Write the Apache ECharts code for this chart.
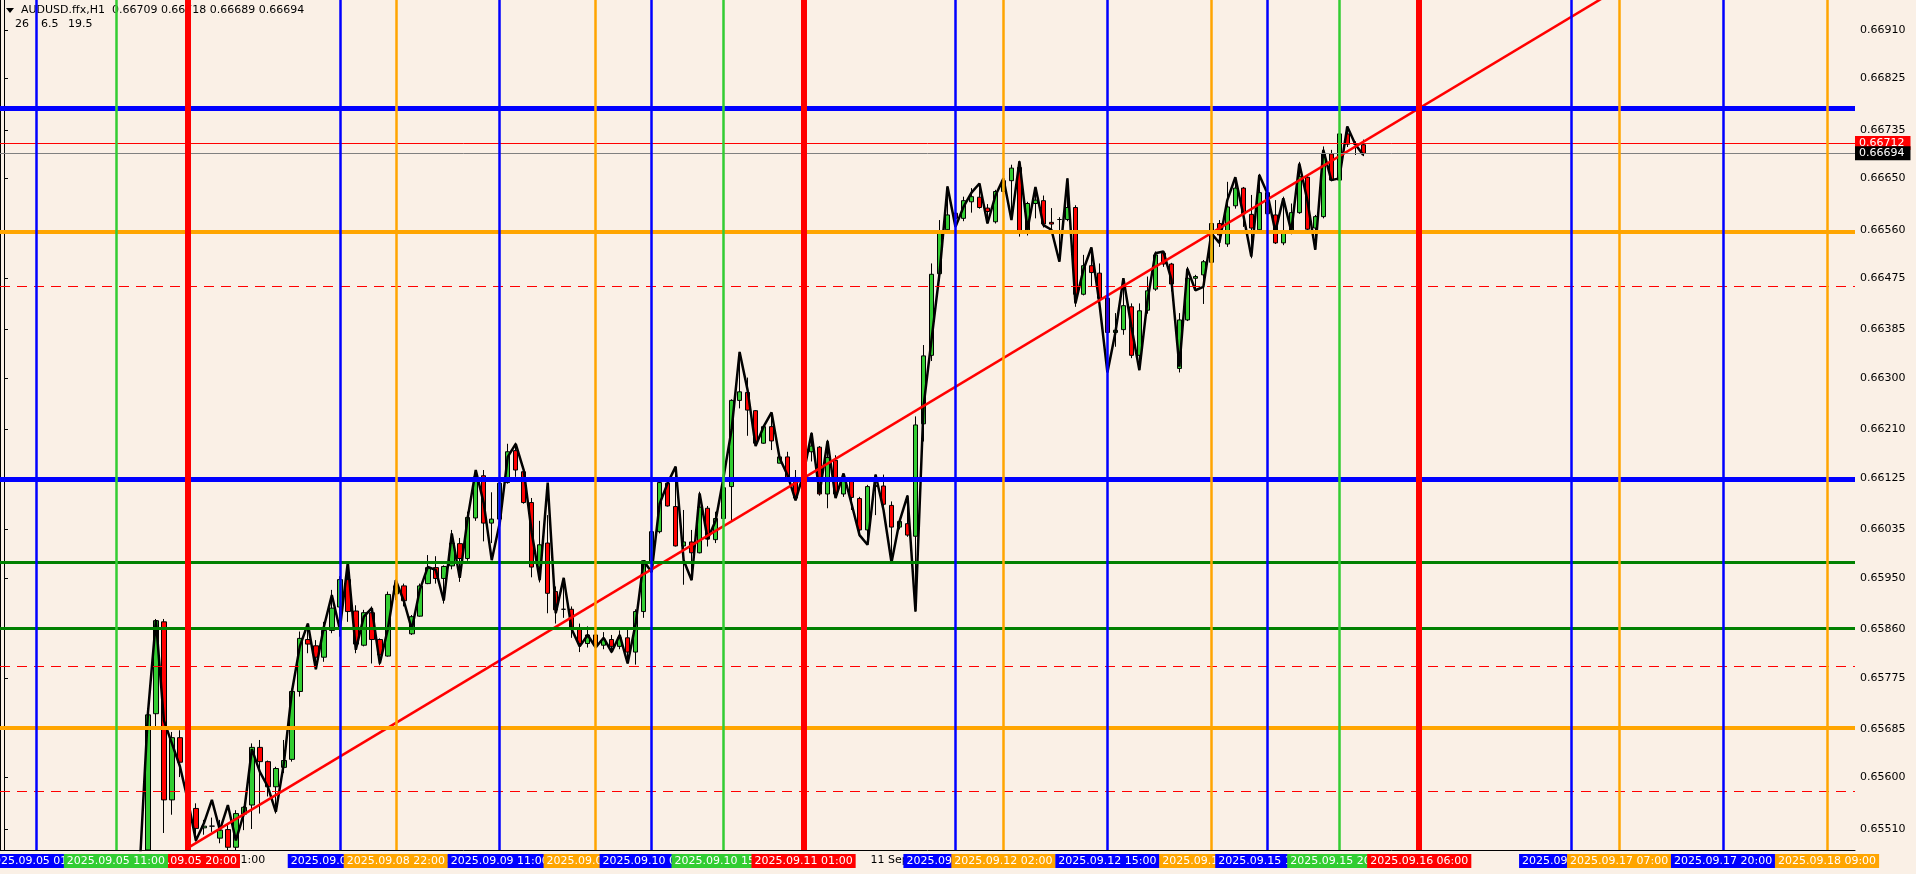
<!DOCTYPE html>
<html>
<head>
<meta charset="utf-8">
<title>AUDUSD.ffx,H1</title>
<script src="https://cdn.jsdelivr.net/npm/echarts@6/dist/echarts.min.js"></script>
<style>
  html, body { margin: 0; padding: 0; background: #FAF0E6; }
  #chart { width: 1916px; height: 874px; }
</style>
</head>
<body>
<div id="chart"></div>
<script>
// header
const symbolTitle = 'AUDUSD.ffx,H1';
const headerOHLC = ['0.66709', '0.66718', '0.66689', '0.66694'];
const headerParams = ['26', '6.5', '19.5'];

// time slots on the axis (H1 bars, weekend skipped)
const firstSlot = Date.UTC(2025, 8, 4, 21);
const slotCount = 232;
const lastBar = '2025.09.15 23:00';
const firstCandle = '2025.09.05 15:00';
const firstLinePoint = '2025.09.05 14:00';

// candles, one entry per bar from firstCandle
const openVals = [
  0.65450, 0.65712, 0.65873, 0.65561, 0.65670, 0.65626, 0.65546, 0.65512, 0.65515, 0.65494,
  0.65509, 0.65478, 0.65536, 0.65552, 0.65653, 0.65628, 0.65584, 0.65618, 0.65632, 0.65751,
  0.65842, 0.65831, 0.65811, 0.65858, 0.65899, 0.65947, 0.65892, 0.65832, 0.65889, 0.65842,
  0.65813, 0.65922, 0.65936, 0.65852, 0.65883, 0.65940, 0.65968, 0.65949, 0.65971, 0.66010,
  0.65984, 0.66055, 0.66129, 0.66046, 0.66053, 0.66117, 0.66173, 0.66136, 0.66082, 0.65969,
  0.66011, 0.65926, 0.65895, 0.65895, 0.65860, 0.65835, 0.65850, 0.65832, 0.65842, 0.65830,
  0.65845, 0.65820, 0.65891, 0.65978, 0.66031, 0.66116, 0.66075, 0.66006, 0.66013, 0.65994,
  0.66072, 0.66017, 0.66054, 0.66110, 0.66261, 0.66275, 0.66243, 0.66186, 0.66215, 0.66151,
  0.66162, 0.66126, 0.66096, 0.66171, 0.66179, 0.66097, 0.66156, 0.66097, 0.66120, 0.66089,
  0.66034, 0.66110, 0.66111, 0.66077, 0.66039, 0.66045, 0.66023, 0.66220, 0.66340, 0.66483,
  0.66560, 0.66589, 0.66580, 0.66609, 0.66617, 0.66598, 0.66574, 0.66627, 0.66646, 0.66669,
  0.66557, 0.66606, 0.66611, 0.66573, 0.66578, 0.66578, 0.66599, 0.66447, 0.66497, 0.66484,
  0.66440, 0.66380, 0.66385, 0.66425, 0.66340, 0.66419, 0.66456, 0.66519, 0.66500, 0.66317,
  0.66402, 0.66475, 0.66481, 0.66503, 0.66571, 0.66535, 0.66602, 0.66633, 0.66587, 0.66560,
  0.66625, 0.66586, 0.66537, 0.66555, 0.66590, 0.66652, 0.66563, 0.66583, 0.66693, 0.66647,
  0.66728, 0.66710, 0.66709
];
const highVals = [
  0.65722, 0.65878, 0.65878, 0.65680, 0.65683, 0.65631, 0.65555, 0.65526, 0.65530, 0.65526,
  0.65520, 0.65543, 0.65550, 0.65660, 0.65666, 0.65630, 0.65619, 0.65666, 0.65756, 0.65856,
  0.65870, 0.65841, 0.65873, 0.65929, 0.65953, 0.65977, 0.65902, 0.65894, 0.65900, 0.65844,
  0.65926, 0.65947, 0.65940, 0.65885, 0.65940, 0.65990, 0.65988, 0.65972, 0.66034, 0.66020,
  0.66066, 0.66139, 0.66139, 0.66100, 0.66119, 0.66185, 0.66187, 0.66145, 0.66090, 0.66050,
  0.66060, 0.65935, 0.65950, 0.65900, 0.65870, 0.65865, 0.65858, 0.65855, 0.65850, 0.65858,
  0.65860, 0.65895, 0.65980, 0.66054, 0.66119, 0.66119, 0.66145, 0.66069, 0.66034, 0.66101,
  0.66076, 0.66066, 0.66247, 0.66263, 0.66346, 0.66301, 0.66244, 0.66217, 0.66240, 0.66168,
  0.66171, 0.66139, 0.66177, 0.66205, 0.66181, 0.66192, 0.66165, 0.66133, 0.66124, 0.66092,
  0.66113, 0.66131, 0.66131, 0.66084, 0.66052, 0.66095, 0.66233, 0.66358, 0.66501, 0.66577,
  0.66636, 0.66597, 0.66618, 0.66633, 0.66641, 0.66605, 0.66630, 0.66656, 0.66674, 0.66681,
  0.66609, 0.66635, 0.66620, 0.66598, 0.66582, 0.66650, 0.66603, 0.66516, 0.66529, 0.66501,
  0.66446, 0.66414, 0.66475, 0.66431, 0.66431, 0.66478, 0.66522, 0.66522, 0.66502, 0.66414,
  0.66495, 0.66481, 0.66507, 0.66580, 0.66577, 0.66644, 0.66652, 0.66635, 0.66621, 0.66658,
  0.66634, 0.66612, 0.66618, 0.66606, 0.66679, 0.66656, 0.66586, 0.66706, 0.66700, 0.66732,
  0.66741, 0.66715, 0.66718
];
const lowVals = [
  0.65420, 0.65684, 0.65503, 0.65535, 0.65601, 0.65531, 0.65488, 0.65500, 0.65505, 0.65485,
  0.65460, 0.65460, 0.65508, 0.65510, 0.65537, 0.65567, 0.65537, 0.65608, 0.65628, 0.65742,
  0.65818, 0.65790, 0.65803, 0.65853, 0.65847, 0.65873, 0.65818, 0.65830, 0.65800, 0.65797,
  0.65812, 0.65911, 0.65900, 0.65850, 0.65882, 0.65939, 0.65940, 0.65905, 0.65965, 0.65943,
  0.65980, 0.66050, 0.66014, 0.66011, 0.66040, 0.66115, 0.66127, 0.66080, 0.65951, 0.65942,
  0.65888, 0.65870, 0.65880, 0.65845, 0.65820, 0.65828, 0.65822, 0.65825, 0.65818, 0.65825,
  0.65800, 0.65798, 0.65880, 0.65939, 0.66028, 0.66075, 0.66005, 0.65938, 0.65946, 0.65993,
  0.66005, 0.66011, 0.66005, 0.66050, 0.66247, 0.66199, 0.66181, 0.66185, 0.66174, 0.66151,
  0.66118, 0.66086, 0.66094, 0.66154, 0.66094, 0.66072, 0.66092, 0.66092, 0.66069, 0.66022,
  0.66008, 0.66060, 0.66069, 0.65977, 0.66035, 0.66022, 0.65891, 0.66189, 0.66330, 0.66470,
  0.66554, 0.66560, 0.66575, 0.66590, 0.66597, 0.66571, 0.66571, 0.66620, 0.66577, 0.66548,
  0.66550, 0.66580, 0.66564, 0.66555, 0.66504, 0.66575, 0.66425, 0.66445, 0.66460, 0.66431,
  0.66300, 0.66355, 0.66376, 0.66335, 0.66314, 0.66413, 0.66453, 0.66495, 0.66452, 0.66310,
  0.66400, 0.66454, 0.66430, 0.66490, 0.66530, 0.66530, 0.66597, 0.66565, 0.66510, 0.66555,
  0.66583, 0.66535, 0.66533, 0.66552, 0.66588, 0.66556, 0.66525, 0.66580, 0.66645, 0.66638,
  0.66705, 0.66691, 0.66689
];
const closeVals = [
  0.65710, 0.65875, 0.65561, 0.65670, 0.65627, 0.65547, 0.65511, 0.65515, 0.65515, 0.65508,
  0.65478, 0.65537, 0.65548, 0.65653, 0.65628, 0.65584, 0.65616, 0.65630, 0.65751, 0.65844,
  0.65834, 0.65811, 0.65858, 0.65897, 0.65947, 0.65891, 0.65834, 0.65889, 0.65842, 0.65815,
  0.65921, 0.65936, 0.65910, 0.65882, 0.65936, 0.65968, 0.65949, 0.65970, 0.66011, 0.65984,
  0.66056, 0.66127, 0.66046, 0.66053, 0.66116, 0.66171, 0.66139, 0.66082, 0.65969, 0.66008,
  0.65923, 0.65894, 0.65895, 0.65860, 0.65835, 0.65850, 0.65832, 0.65842, 0.65830, 0.65845,
  0.65820, 0.65891, 0.65980, 0.66031, 0.66117, 0.66076, 0.66006, 0.66013, 0.65994, 0.66074,
  0.66018, 0.66054, 0.66108, 0.66261, 0.66276, 0.66244, 0.66186, 0.66215, 0.66190, 0.66162,
  0.66120, 0.66090, 0.66174, 0.66181, 0.66097, 0.66161, 0.66097, 0.66120, 0.66091, 0.66034,
  0.66110, 0.66112, 0.66079, 0.66039, 0.66049, 0.66025, 0.66218, 0.66339, 0.66482, 0.66558,
  0.66586, 0.66580, 0.66611, 0.66618, 0.66599, 0.66592, 0.66627, 0.66646, 0.66668, 0.66558,
  0.66606, 0.66612, 0.66570, 0.66570, 0.66578, 0.66599, 0.66447, 0.66497, 0.66485, 0.66440,
  0.66380, 0.66384, 0.66427, 0.66340, 0.66418, 0.66453, 0.66516, 0.66500, 0.66465, 0.66402,
  0.66475, 0.66478, 0.66504, 0.66571, 0.66551, 0.66600, 0.66633, 0.66588, 0.66563, 0.66625,
  0.66588, 0.66537, 0.66554, 0.66590, 0.66653, 0.66561, 0.66583, 0.66693, 0.66647, 0.66728,
  0.66710, 0.66710, 0.66694
];

// black price line, one point per bar from firstLinePoint
const lineVals = [
  0.65450, 0.65713, 0.65876, 0.65700, 0.65660, 0.65620, 0.65560, 0.65490, 0.65520, 0.65561,
  0.65508, 0.65552, 0.65490, 0.65537, 0.65650, 0.65610, 0.65584, 0.65540, 0.65625, 0.65750,
  0.65830, 0.65870, 0.65790, 0.65864, 0.65920, 0.65860, 0.65977, 0.65824, 0.65882, 0.65897,
  0.65800, 0.65860, 0.65946, 0.65910, 0.65860, 0.65929, 0.65969, 0.65964, 0.65910, 0.66028,
  0.65950, 0.66056, 0.66139, 0.66081, 0.65981, 0.66046, 0.66162, 0.66185, 0.66139, 0.66030,
  0.65946, 0.66117, 0.65888, 0.65950, 0.65860, 0.65830, 0.65850, 0.65828, 0.65845, 0.65820,
  0.65850, 0.65800, 0.65870, 0.65980, 0.65960, 0.66080, 0.66116, 0.66145, 0.65981, 0.65946,
  0.66098, 0.66018, 0.66050, 0.66127, 0.66210, 0.66346, 0.66279, 0.66181, 0.66215, 0.66240,
  0.66160, 0.66130, 0.66086, 0.66133, 0.66204, 0.66098, 0.66190, 0.66090, 0.66133, 0.66080,
  0.66025, 0.66008, 0.66131, 0.66069, 0.65977, 0.66049, 0.66094, 0.65891, 0.66250, 0.66367,
  0.66483, 0.66636, 0.66565, 0.66600, 0.66625, 0.66641, 0.66571, 0.66620, 0.66650, 0.66577,
  0.66680, 0.66560, 0.66635, 0.66568, 0.66560, 0.66504, 0.66650, 0.66431, 0.66490, 0.66529,
  0.66431, 0.66310, 0.66380, 0.66475, 0.66390, 0.66314, 0.66435, 0.66519, 0.66522, 0.66473,
  0.66320, 0.66492, 0.66454, 0.66460, 0.66554, 0.66537, 0.66612, 0.66652, 0.66586, 0.66513,
  0.66656, 0.66624, 0.66557, 0.66615, 0.66557, 0.66676, 0.66612, 0.66525, 0.66700, 0.66647,
  0.66650, 0.66741, 0.66710, 0.66691
];

// price scale
const priceMin = 0.654732;
const priceMax = 0.669626;
const priceTicks = [0.66910, 0.66825, 0.66735, 0.66650, 0.66560, 0.66475, 0.66385, 0.66300, 0.66210,
  0.66125, 0.66035, 0.65950, 0.65860, 0.65775, 0.65685, 0.65600, 0.65510];

// horizontal levels
const hValues = [0.66773, 0.66556, 0.66461, 0.66123, 0.65977, 0.65861, 0.65796, 0.65688, 0.65577];
const hColors = ['#0000FF', '#FFA500', '#FF0000', '#0000FF', '#008000', '#008000', '#FF0000', '#FFA500', '#FF0000'];
const hWidths = [5, 4, 1, 5, 3, 3, 1, 4, 1];
const hDashed = [false, false, true, false, false, false, true, false, true];
const askPrice = 0.66712;
const bidPrice = 0.66694;

// vertical time lines (listed in drawing order)
const vTimes = ['2025.09.05 01:00', '2025.09.05 20:00', '2025.09.05 11:00', '2025.09.08 15:00', '2025.09.08 22:00',
  '2025.09.09 11:00', '2025.09.09 23:00', '2025.09.10 06:00', '2025.09.10 15:00', '2025.09.11 01:00',
  '2025.09.11 20:00', '2025.09.12 02:00', '2025.09.12 15:00', '2025.09.15 04:00', '2025.09.15 11:00',
  '2025.09.15 20:00', '2025.09.16 06:00', '2025.09.17 01:00', '2025.09.17 07:00', '2025.09.17 20:00',
  '2025.09.18 09:00'];
const vColors = ['#0000FF', '#FF0000', '#32CD32', '#0000FF', '#FFA500',
  '#0000FF', '#FFA500', '#0000FF', '#32CD32', '#FF0000',
  '#0000FF', '#FFA500', '#0000FF', '#FFA500', '#0000FF',
  '#32CD32', '#FF0000', '#0000FF', '#FFA500', '#0000FF',
  '#FFA500'];

// trend line anchors
const trendFrom = ['2025.09.05 20:00', 0.65477];
const trendTo = ['2025.09.16 06:00', 0.66773];

const months = ['Jan', 'Feb', 'Mar', 'Apr', 'May', 'Jun', 'Jul', 'Aug', 'Sep', 'Oct', 'Nov', 'Dec'];
const font = 'DejaVu Sans';

function pad(n) { return n < 10 ? '0' + n : '' + n; }
function stamp(d) {
  return d.getUTCFullYear() + '.' + pad(d.getUTCMonth() + 1) + '.' + pad(d.getUTCDate()) + ' ' + pad(d.getUTCHours()) + ':00';
}
const times = [];
for (let t = firstSlot; times.length < slotCount; t += 3600000) {
  const d = new Date(t);
  if (d.getUTCDay() !== 0 && d.getUTCDay() !== 6) times.push(stamp(d));
}
const lastIdx = times.indexOf(lastBar);

// candlestick has no clip path for partly hidden bars, so cut them at the bottom edge
const inView = (v) => Math.max(v, priceMin);
const c0 = times.indexOf(firstCandle);
const candles = times.map((_, i) => {
  const k = i - c0;
  if (k < 0 || k >= openVals.length) return '-';
  return [inView(openVals[k]), inView(closeVals[k]), inView(lowVals[k]), inView(highVals[k])];
});
const l0 = times.indexOf(firstLinePoint);
const lineData = times.map((_, i) => {
  const k = i - l0;
  return (k >= 0 && k < lineVals.length) ? lineVals[k] : '-';
});

const ta = times.indexOf(trendFrom[0]);
const tb = times.indexOf(trendTo[0]);
const slope = (trendTo[1] - trendFrom[1]) / (tb - ta);
const edge = slotCount - 0.5;
const trendData = [[ta, trendFrom[1]], [edge, trendFrom[1] + slope * (edge - ta)]];

function axisText(s) {
  const day = +s.slice(8, 10);
  const mon = months[+s.slice(5, 7) - 1];
  const hm = s.slice(11);
  return hm === '00:00' ? day + ' ' + mon + ' ' + s.slice(0, 4) : day + ' ' + mon + ' ' + hm;
}
const showEvery = (i) => i % 12 === 0 && i <= lastIdx;

const boxLabel = (text, bg, pos) => ({
  show: true, position: pos, formatter: text, distance: pos === 'start' ? 4 : 0,
  color: '#fff', backgroundColor: bg, padding: pos === 'start' ? [1, 3, 0, 3] : [1, 6, 0, 4],
  fontFamily: font, fontSize: 11, lineHeight: 13
});

const vMarks = vTimes.map((t, i) => ({
  xAxis: t,
  lineStyle: { color: vColors[i], width: vColors[i] === '#FF0000' ? 6 : 2.5, type: 'solid' },
  label: boxLabel(t, vColors[i], 'start')
}));
const hMarks = hValues.map((v, i) => ({
  yAxis: v,
  lineStyle: { color: hColors[i], width: hWidths[i], type: hDashed[i] ? [10, 7] : 'solid' },
  label: { show: false }
}));
hMarks.push({
  yAxis: askPrice,
  lineStyle: { color: '#FF0000', width: 1, type: 'solid' },
  label: boxLabel(askPrice.toFixed(5), '#FF0000', 'end')
});
hMarks.push({
  yAxis: bidPrice,
  lineStyle: { color: '#808080', width: 1, type: 'solid' },
  label: boxLabel(bidPrice.toFixed(5), '#000000', 'end')
});

const chart = echarts.init(document.getElementById('chart'));
chart.setOption({
  backgroundColor: '#FAF0E6',
  animation: false,
  grid: { left: -1, right: 61, top: 0, bottom: 24 },
  xAxis: [
    {
      type: 'category', data: times, boundaryGap: true,
      axisLine: { lineStyle: { color: '#000', width: 1 } },
      axisTick: { alignWithLabel: true, interval: showEvery, length: 4, lineStyle: { color: '#000' } },
      axisLabel: { interval: showEvery, align: 'left', padding: [0, 0, 0, 3], margin: 5,
        color: '#000', fontFamily: font, fontSize: 11, formatter: axisText },
      splitLine: { show: false }
    },
    { type: 'value', min: -0.5, max: edge, show: false }
  ],
  yAxis: {
    type: 'value', position: 'right', min: priceMin, max: priceMax,
    axisLine: { show: true, lineStyle: { color: '#000' } },
    axisTick: { show: true, length: 4, customValues: priceTicks, lineStyle: { color: '#000' } },
    axisLabel: { customValues: priceTicks, formatter: (v) => v.toFixed(5), margin: 5,
      color: '#000', fontFamily: font, fontSize: 11 },
    splitLine: { show: false }
  },
  graphic: [
    { type: 'polygon', shape: { points: [[6, 8], [14, 8], [10, 13]] }, style: { fill: '#000' } },
    { type: 'text', left: 21, top: 5, style: { text: symbolTitle + '  ' + headerOHLC.join(' '), font: '11px "DejaVu Sans"', fill: '#000' } },
    { type: 'text', left: 15, top: 19, style: { text: headerParams[0], font: '11px "DejaVu Sans"', fill: '#000' } },
    { type: 'text', left: 41, top: 19, style: { text: headerParams[1], font: '11px "DejaVu Sans"', fill: '#000' } },
    { type: 'text', left: 68, top: 19, style: { text: headerParams[2], font: '11px "DejaVu Sans"', fill: '#000' } },
    { type: 'line', shape: { x1: 0.5, y1: 0, x2: 0.5, y2: 850 }, style: { stroke: '#000', lineWidth: 1 } }
  ],
  series: [
    {
      type: 'line', xAxisIndex: 0, data: times.map(() => '-'), z: 1, silent: true,
      markLine: { symbol: ['none', 'none'], silent: true, animation: false, precision: 5, data: hMarks }
    },
    {
      type: 'line', xAxisIndex: 0, data: times.map(() => '-'), z: 1, silent: true,
      markLine: { symbol: ['none', 'none'], silent: true, animation: false, data: vMarks }
    },
    {
      type: 'candlestick', xAxisIndex: 0, data: candles, z: 2, barWidth: 5, clip: true,
      itemStyle: { color: '#32CD32', color0: '#FF0000', borderColor: '#000', borderColor0: '#000',
        borderColorDoji: '#000', borderWidth: 1 }
    },
    {
      type: 'line', xAxisIndex: 0, data: lineData, z: 3, symbol: 'none', connectNulls: false,
      lineStyle: { color: '#000', width: 2.5 }
    },
    {
      type: 'line', xAxisIndex: 1, data: trendData, z: 4, symbol: 'none', clip: true,
      lineStyle: { color: '#FF0000', width: 2.5 }
    }
  ]
});
</script>
</body>
</html>
